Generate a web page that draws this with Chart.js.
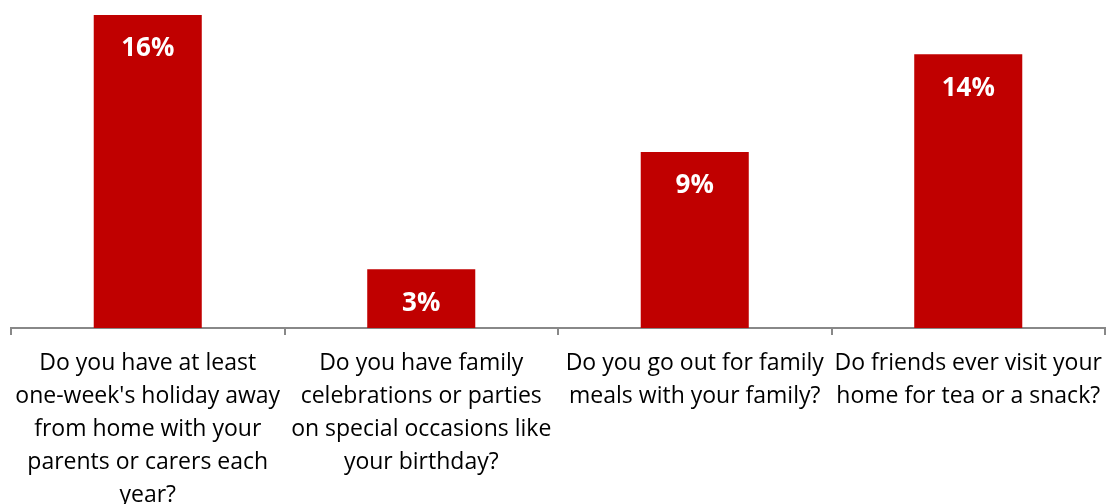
<!DOCTYPE html>
<html>
<head>
<meta charset="utf-8">
<script src="https://cdn.jsdelivr.net/npm/chart.js@4/dist/chart.umd.min.js"></script>
<style>
    body { margin: 0; background: #fff; }
    #wrap { width: 1107px; height: 504px; position: relative; }
</style>
</head>
<body>
<div id="wrap"><canvas id="barChart"></canvas></div>
<script>
// Chart data
const categories = [
    ['Do you have at least', "one-week's holiday away", 'from home with your', 'parents or carers each', 'year?'],
    ['Do you have family', 'celebrations or parties', 'on special occasions like', 'your birthday?'],
    ['Do you go out for family', 'meals with your family?'],
    ['Do friends ever visit your', 'home for tea or a snack?']
];
const values = [16, 3, 9, 14];
const barColor = '#C00000';

// Draws the white percentage label inside each bar, near its top
const valueLabels = {
    id: 'valueLabels',
    afterDatasetsDraw(chart) {
        const ctx = chart.ctx;
        const meta = chart.getDatasetMeta(0);
        ctx.save();
        ctx.fillStyle = '#ffffff';
        ctx.font = 'bold 26px "Open Sans", sans-serif';
        ctx.textAlign = 'center';
        ctx.textBaseline = 'middle';
        meta.data.forEach((bar, i) => {
            ctx.fillText(values[i] + '%', bar.x, bar.y + 34);
        });
        ctx.restore();
    }
};

new Chart(document.getElementById('barChart'), {
    type: 'bar',
    data: {
        labels: categories,
        datasets: [{
            data: values,
            backgroundColor: barColor,
            categoryPercentage: 1,
            barPercentage: 0.395
        }]
    },
    options: {
        responsive: true,
        maintainAspectRatio: false,
        animation: false,
        layout: { padding: { left: 11, right: 2, top: 15 } },
        plugins: {
            legend: { display: false },
            tooltip: { enabled: false }
        },
        scales: {
            y: {
                display: false,
                min: 0,
                max: 16
            },
            x: {
                // fixed label band so the axis sits where it does in the original
                afterFit: (scale) => {
                    scale.height = 176;
                    scale.paddingLeft = 0;
                    scale.paddingRight = 0;
                },
                grid: {
                    display: true,
                    drawOnChartArea: false,
                    drawTicks: true,
                    tickLength: 7,
                    color: '#888888',
                    lineWidth: 2,
                    offset: true
                },
                border: { display: true, color: '#888888', width: 2 },
                ticks: {
                    color: '#000000',
                    font: { family: '"Open Sans", sans-serif', size: 23, lineHeight: 1.43 },
                    maxRotation: 0,
                    minRotation: 0,
                    autoSkip: false,
                    padding: 12
                }
            }
        }
    },
    plugins: [valueLabels]
});
</script>
</body>
</html>
